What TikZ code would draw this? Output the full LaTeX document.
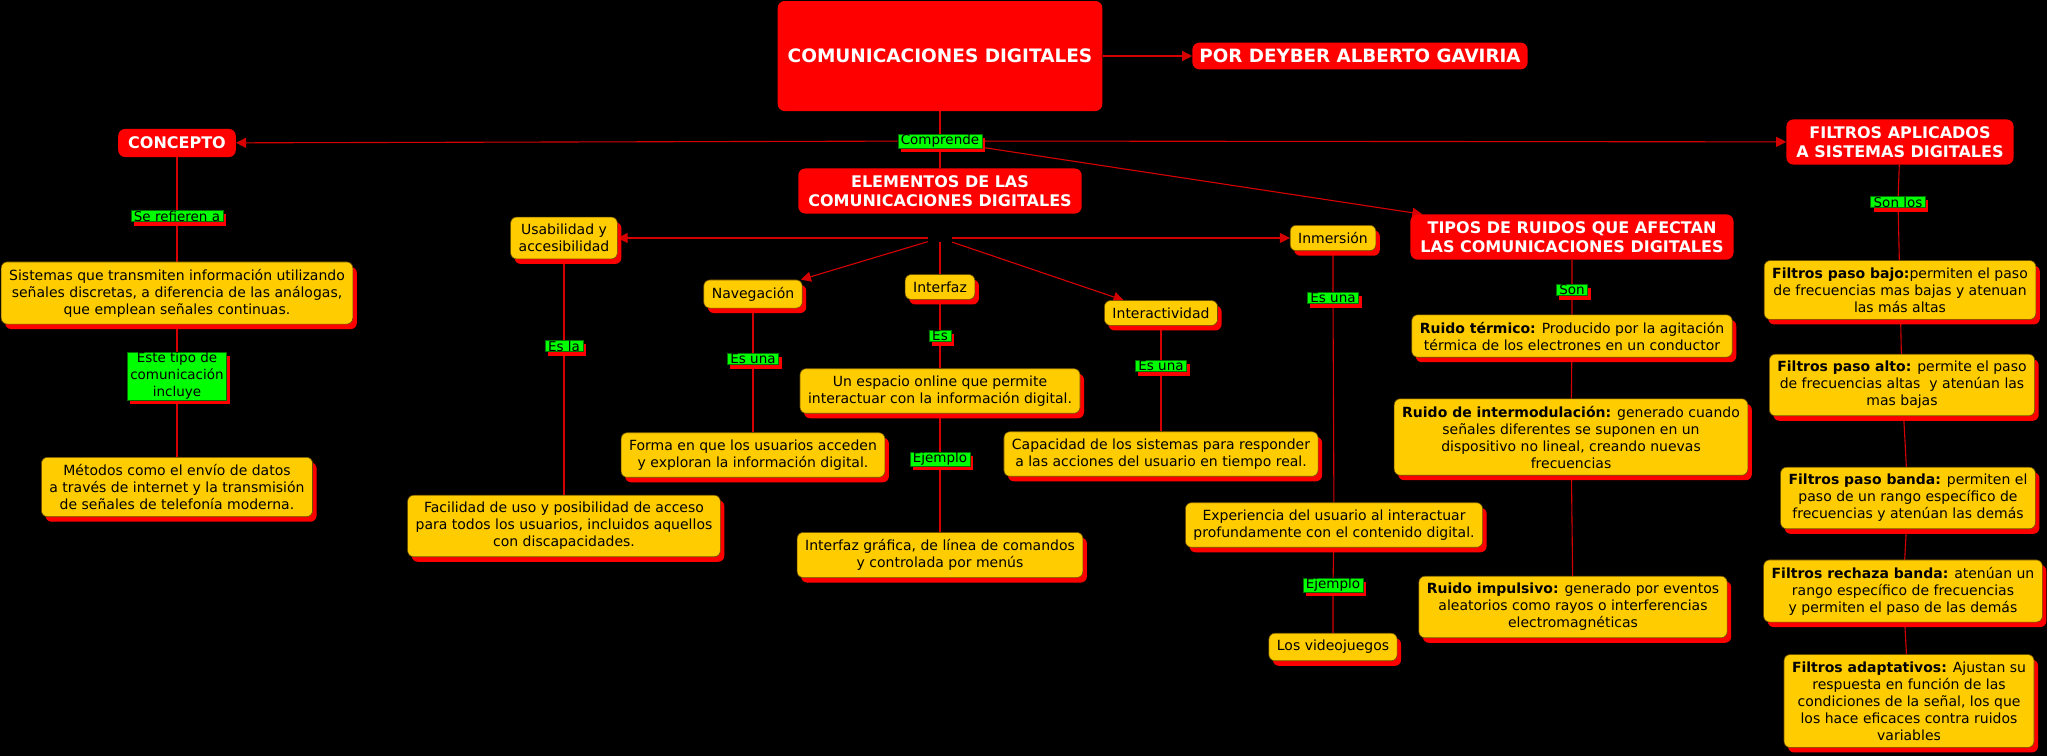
\documentclass[tikz,border=0pt]{standalone}
\usepackage{fontspec}
\setmainfont{DejaVu Sans}
\usetikzlibrary{arrows.meta,shadows,backgrounds}
\definecolor{amarillo}{RGB}{255,204,0}
\definecolor{rojo}{RGB}{255,0,0}
\definecolor{verde}{RGB}{0,255,0}
\definecolor{linea}{RGB}{215,0,0}
\definecolor{borde}{RGB}{110,80,0}

\begin{document}
\begin{tikzpicture}[x=1pt, y=-1pt, >={Triangle[length=10pt,width=10pt]},
  titulo/.style={fill=rojo, text=white, rounded corners=7pt, align=center,
    inner xsep=10pt, inner ysep=7pt, font=\fontsize{16}{19}\selectfont\bfseries},
  idea/.style={fill=amarillo, draw=borde, line width=0.6pt, rounded corners=6pt,
    align=center, inner xsep=8pt, inner ysep=7pt, font=\fontsize{14}{17}\selectfont,
    drop shadow={shadow xshift=4pt, shadow yshift=-5pt, fill=rojo, opacity=1}},
  enlace/.style={fill=verde, draw=green!45!black, line width=0.5pt, align=center,
    inner xsep=3pt, inner ysep=0.5pt, font=\fontsize{13.5}{17}\selectfont,
    drop shadow={shadow xshift=3pt, shadow yshift=-4pt, fill=rojo, opacity=1}},
  linea/.style={draw=linea, line width=1.1pt}]
  \useasboundingbox (0,0) rectangle (2047,755);

  % titulos
  \node[titulo, minimum width=324pt, minimum height=110pt, font=\fontsize{18.5}{22}\selectfont\bfseries] (principal) at (940,56) {COMUNICACIONES DIGITALES};
  \node[titulo, inner xsep=7pt, inner ysep=6.5pt, font=\fontsize{18.3}{22}\selectfont\bfseries] (autor) at (1360,56) {POR DEYBER ALBERTO GAVIRIA};
  \node[titulo, inner ysep=8pt] (concepto) at (177,143) {CONCEPTO};
  \node[titulo] (filtros) at (1900,142) {FILTROS APLICADOS\\A SISTEMAS DIGITALES};
  \node[titulo] (elementos) at (940,191) {ELEMENTOS DE LAS\\COMUNICACIONES DIGITALES};
  \node[titulo] (tipos) at (1572,237) {TIPOS DE RUIDOS QUE AFECTAN\\LAS COMUNICACIONES DIGITALES};
  \node[enlace] (comprende) at (940,141) {Comprende};

  % concepto
  \node[enlace] (serefieren) at (177,216) {Se refieren a};
  \node[idea] (sistemas) at (177,293) {Sistemas que transmiten información utilizando\\señales discretas, a diferencia de las análogas,\\que emplean señales continuas.};
  \node[enlace] (estetipo) at (177,376) {Este tipo de\\comunicación\\incluye};
  \node[idea] (metodos) at (177,487) {Métodos como el envío de datos\\a través de internet y la transmisión\\de señales de telefonía moderna.};

  % elementos
  \node[inner sep=0pt, minimum width=24pt, minimum height=8pt] (centro) at (940,238) {};
  \node[idea] (usabilidad) at (564,238) {Usabilidad y\\accesibilidad};
  \node[enlace] (esla) at (564,346) {Es la};
  \node[idea] (facilidad) at (564,526) {Facilidad de uso y posibilidad de acceso\\para todos los usuarios, incluidos aquellos\\con discapacidades.};
  \node[idea] (navegacion) at (753,294) {Navegación};
  \node[enlace] (esuna1) at (753,359) {Es una};
  \node[idea] (forma) at (753,455) {Forma en que los usuarios acceden\\y exploran la información digital.};
  \node[idea] (interfaz) at (940,287) {Interfaz};
  \node[enlace] (es) at (940,336) {Es};
  \node[idea] (espacio) at (940,391) {Un espacio online que permite\\interactuar con la información digital.};
  \node[enlace] (ejemplo1) at (940,459) {Ejemplo};
  \node[idea] (grafica) at (940,555) {Interfaz gráfica, de línea de comandos\\y controlada por menús};
  \node[idea] (interactividad) at (1161,313) {Interactividad};
  \node[enlace] (esuna2) at (1161,366) {Es una};
  \node[idea] (capacidad) at (1161,454) {Capacidad de los sistemas para responder\\a las acciones del usuario en tiempo real.};
  \node[idea] (inmersion) at (1333,238) {Inmersión};
  \node[enlace] (esuna3) at (1333,298) {Es una};
  \node[idea] (experiencia) at (1334,525) {Experiencia del usuario al interactuar\\profundamente con el contenido digital.};
  \node[enlace] (ejemplo2) at (1333,585) {Ejemplo};
  \node[idea] (videojuegos) at (1333,647) {Los videojuegos};

  % ruidos
  \node[enlace] (son) at (1572,290) {Son};
  \node[idea] (termico) at (1572,336) {\textbf{Ruido térmico:} Producido por la agitación\\térmica de los electrones en un conductor};
  \node[idea] (intermod) at (1571,437) {\textbf{Ruido de intermodulación:} generado cuando\\señales diferentes se suponen en un\\dispositivo no lineal, creando nuevas\\frecuencias};
  \node[idea] (impulsivo) at (1573,607) {\textbf{Ruido impulsivo:} generado por eventos\\aleatorios como rayos o interferencias\\electromagnéticas};

  % filtros
  \node[enlace] (sonlos) at (1898,202) {Son los};
  \node[idea] (bajo) at (1900,290) {\textbf{Filtros paso bajo:}permiten el paso\\de frecuencias mas bajas y atenuan\\las más altas};
  \node[idea] (alto) at (1902,385) {\textbf{Filtros paso alto:} permite el paso\\de frecuencias altas \ y atenúan las\\mas bajas};
  \node[idea] (banda) at (1908,498) {\textbf{Filtros paso banda:} permiten el\\paso de un rango específico de\\frecuencias y atenúan las demás};
  \node[idea] (rechaza) at (1903,591) {\textbf{Filtros rechaza banda:} atenúan un\\rango específico de frecuencias\\y permiten el paso de las demás};
  \node[idea] (adaptativos) at (1909,701) {\textbf{Filtros adaptativos:} Ajustan su\\respuesta en función de las\\condiciones de la señal, los que\\los hace eficaces contra ruidos\\variables};

  \begin{scope}[on background layer]
    \fill[black] (-5,-5) rectangle (2052,760);
    \draw[linea, ->] (principal) -- (autor);
    \draw[linea] (principal) -- (comprende) -- (elementos);
    \draw[linea, ->] (comprende) -- (concepto);
    \draw[linea, ->] (comprende) -- (filtros);
    \draw[linea, ->] (comprende) -- (tipos);
    \draw[linea] (concepto) -- (serefieren) -- (sistemas) -- (estetipo) -- (metodos);
    \draw[linea, ->] (centro) -- (usabilidad);
    \draw[linea, ->] (centro) -- (inmersion);
    \draw[linea, ->] (centro) -- (navegacion);
    \draw[linea, ->] (centro) -- (interactividad);
    \draw[linea] (centro) -- (interfaz);
    \draw[linea] (usabilidad) -- (esla) -- (facilidad);
    \draw[linea] (navegacion) -- (esuna1) -- (forma);
    \draw[linea] (interfaz) -- (es) -- (espacio) -- (ejemplo1) -- (grafica);
    \draw[linea] (interactividad) -- (esuna2) -- (capacidad);
    \draw[linea] (inmersion) -- (esuna3) -- (experiencia) -- (ejemplo2) -- (videojuegos);
    \draw[linea] (tipos) -- (son) -- (termico) -- (intermod) -- (impulsivo);
    \draw[linea] (filtros) -- (sonlos) -- (bajo) -- (alto) -- (banda) -- (rechaza) -- (adaptativos);
  \end{scope}
\end{tikzpicture}
\end{document}
